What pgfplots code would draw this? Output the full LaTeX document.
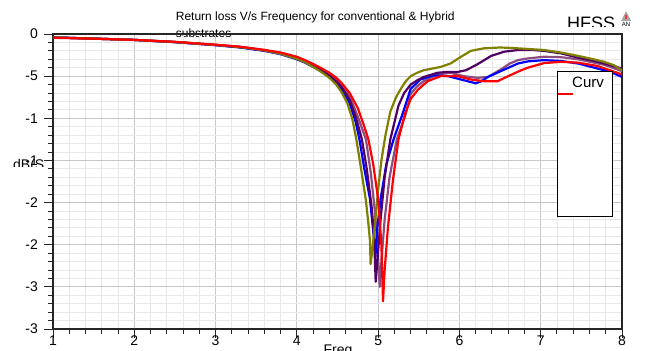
\documentclass[border=0pt]{standalone}
\usepackage{fontspec}
\setmainfont{Liberation Sans}
\usepackage{pgfplots}
\pgfplotsset{compat=1.18}
\definecolor{cOlive}{HTML}{808000}
\definecolor{cIndigo}{HTML}{500064}
\definecolor{cMauve}{HTML}{8C4C80}
\definecolor{cBlue}{HTML}{0000FF}
\definecolor{cRed}{HTML}{FF0000}
\begin{document}
\begin{tikzpicture}
\path[use as bounding box] (-53bp,-22bp) rectangle (592bp,329bp);
% title (drawn first so the axis frame crosses it)
\node[anchor=base west, inner sep=0pt, font=\fontsize{12bp}{14bp}\selectfont] at (122.7bp,308.3bp) {Return loss V/s Frequency for conventional \& Hybrid};
\node[anchor=base west, inner sep=0pt, font=\fontsize{12bp}{14bp}\selectfont] at (122.7bp,291.7bp) {substrates};
\begin{scope}
\clip (500bp,302bp) rectangle (592bp,329bp);
\node[anchor=north west, inner sep=0pt, font=\fontsize{18bp}{20bp}\selectfont] at (514bp,312bp) {HFSS};
\end{scope}
\fill[gray!70] (568bp,308bp) -- (578bp,308bp) -- (573bp,318bp) -- cycle;
\fill[red!80] (572bp,310bp) rectangle (574bp,314bp);
\node[anchor=north, inner sep=0pt, font=\fontsize{6bp}{7bp}\selectfont] at (573bp,307bp) {AN};
\begin{scope}
\clip (-53bp,162bp) rectangle (0bp,180bp);
\node[anchor=north west, inner sep=0pt, font=\fontsize{14bp}{16bp}\selectfont] at (-40bp,170bp) {dB(S};
\end{scope}
\begin{axis}[
  at={(0bp,0bp)}, anchor=south west,
  scale only axis, width=569bp, height=295bp,
  xmin=1, xmax=8, ymin=-35, ymax=0,
  xtick={1,2,3,4,5,6,7,8},
  xticklabels={1,2,3,4,5,6,7,8},
  ytick={0,-5,-10,-15,-20,-25,-30,-35},
  yticklabels={0,-5,-1,-1,-2,-2,-3,-3},
  minor x tick num=4, minor y tick num=4,
  grid=both,
  major grid style={color=black!22, line width=0.8bp},
  minor grid style={color=black!9, line width=0.8bp},
  axis line style={color=black!85, line width=1.5bp},
  tick style={color=black!85, line width=1bp},
  major tick length=9bp, minor tick length=5bp,
  tick align=outside,
  xtick pos=bottom, ytick pos=left,
  ticklabel style={font=\fontsize{14bp}{16bp}\selectfont},
  yticklabel style={anchor=east, inner sep=0pt, xshift=-6bp},
  xticklabel style={anchor=north, inner sep=0pt, yshift=2bp},
  clip=true,
  every axis plot/.append style={line width=2.2bp, line join=round},
]
\addplot[cMauve] coordinates {(1,-0.4)(1.5,-0.55)(2,-0.7)(2.5,-0.95)(3,-1.3)(3.3,-1.55)(3.6,-1.95)(3.8,-2.25)(4.0,-2.8)(4.1,-3.2)(4.2,-3.7)(4.3,-4.2)(4.4,-4.8)(4.48,-5.4)(4.55,-6.1)(4.65,-7.4)(4.75,-9.8)(4.85,-12.5)(4.91,-16.5)(4.96,-21)(4.99,-25)(5.02,-30)(5.04,-27)(5.08,-22)(5.14,-17)(5.23,-12.5)(5.34,-9.5)(5.40,-7.1)(5.48,-6.2)(5.56,-5.6)(5.73,-4.8)(5.89,-4.6)(6.05,-5.0)(6.22,-5.2)(6.35,-5.1)(6.51,-4.2)(6.62,-3.5)(6.72,-3.1)(6.84,-2.9)(7.04,-2.7)(7.25,-2.75)(7.46,-3.0)(7.78,-3.65)(8.0,-4.4)};
\addplot[cBlue] coordinates {(1,-0.4)(1.5,-0.55)(2,-0.7)(2.5,-0.97)(3,-1.33)(3.3,-1.6)(3.6,-2.0)(3.8,-2.4)(4.0,-3.0)(4.1,-3.4)(4.2,-3.9)(4.3,-4.4)(4.4,-5.0)(4.48,-5.7)(4.55,-6.5)(4.65,-8.2)(4.72,-10.3)(4.77,-12.5)(4.83,-16)(4.90,-19.6)(4.93,-22.5)(4.955,-25)(4.965,-26.6)(4.99,-23)(5.03,-19.6)(5.10,-15.5)(5.19,-12.5)(5.30,-9.5)(5.40,-6.5)(5.52,-5.4)(5.68,-4.9)(5.86,-5.0)(6.02,-5.4)(6.2,-5.85)(6.27,-5.6)(6.35,-5.1)(6.51,-4.4)(6.72,-3.5)(6.84,-3.25)(7.04,-3.1)(7.25,-3.2)(7.46,-3.5)(7.66,-4.0)(7.86,-4.5)(8.0,-5.1)};
\addplot[cIndigo] coordinates {(1,-0.4)(1.5,-0.55)(2,-0.7)(2.5,-0.95)(3,-1.3)(3.3,-1.55)(3.6,-1.95)(3.8,-2.3)(4.0,-2.85)(4.1,-3.25)(4.2,-3.8)(4.3,-4.35)(4.4,-4.95)(4.48,-5.6)(4.55,-6.3)(4.65,-7.8)(4.73,-10)(4.80,-12.5)(4.86,-16)(4.92,-20.5)(4.95,-24)(4.97,-29.4)(4.99,-27)(5.03,-22)(5.08,-17)(5.15,-12.5)(5.25,-8.5)(5.32,-7.0)(5.40,-6.0)(5.48,-5.5)(5.56,-5.1)(5.73,-4.6)(5.85,-4.5)(5.98,-4.5)(6.08,-4.3)(6.22,-3.6)(6.39,-2.6)(6.55,-2.1)(6.72,-1.9)(6.9,-1.9)(7.04,-2.0)(7.25,-2.3)(7.46,-2.8)(7.66,-3.2)(7.86,-3.7)(8.0,-4.1)};
\addplot[cOlive] coordinates {(1,-0.4)(1.5,-0.55)(2,-0.7)(2.5,-0.95)(3,-1.3)(3.3,-1.55)(3.6,-1.95)(3.8,-2.35)(4.0,-2.95)(4.1,-3.35)(4.2,-3.9)(4.3,-4.5)(4.4,-5.2)(4.48,-5.95)(4.55,-6.9)(4.62,-8.2)(4.68,-10)(4.73,-12.4)(4.79,-16)(4.85,-19.8)(4.88,-22.5)(4.90,-24.6)(4.907,-27.3)(4.93,-25.5)(4.97,-21.5)(5.0,-18.5)(5.04,-15)(5.09,-12)(5.15,-9.2)(5.22,-7.5)(5.28,-6.5)(5.34,-5.6)(5.40,-5.0)(5.48,-4.6)(5.56,-4.3)(5.67,-4.1)(5.77,-3.9)(5.89,-3.5)(6.02,-2.7)(6.14,-2.0)(6.3,-1.7)(6.5,-1.6)(6.63,-1.65)(6.8,-1.75)(7.04,-1.9)(7.25,-2.2)(7.46,-2.6)(7.65,-3.0)(7.78,-3.3)(7.9,-3.7)(8.0,-4.3)};
\addplot[cRed] coordinates {(1,-0.45)(1.5,-0.55)(2,-0.7)(2.5,-0.93)(3,-1.27)(3.3,-1.5)(3.6,-1.88)(3.8,-2.2)(4.0,-2.7)(4.1,-3.1)(4.2,-3.55)(4.3,-4.05)(4.4,-4.6)(4.48,-5.15)(4.55,-5.8)(4.65,-7.0)(4.75,-8.8)(4.83,-11)(4.88,-12.5)(4.94,-15.5)(5.0,-19.6)(5.04,-25)(5.06,-31.7)(5.08,-28)(5.12,-23)(5.18,-17.5)(5.25,-12.5)(5.33,-9.5)(5.40,-7.7)(5.49,-6.6)(5.61,-5.6)(5.77,-5.0)(5.98,-5.0)(6.14,-5.4)(6.3,-5.6)(6.47,-5.6)(6.6,-5.0)(6.76,-4.3)(6.84,-4.0)(7.04,-3.45)(7.25,-3.3)(7.46,-3.4)(7.7,-3.8)(8.0,-4.8)};
\end{axis}
% curve info box
\draw[black, line width=1bp, fill=white] (504.3bp,112.3bp) rectangle (559.7bp,257.3bp);
\begin{scope}
\clip (505bp,242bp) rectangle (559bp,257bp);
\node[anchor=north west, inner sep=0pt, font=\fontsize{15bp}{17bp}\selectfont] at (519bp,252bp) {Curv};
\end{scope}
\draw[cRed, line width=2bp] (505bp,234.7bp) -- (520bp,234.7bp);
\node[anchor=north, inner sep=0pt, font=\fontsize{14bp}{16bp}\selectfont] at (285bp,-16bp) {Freq};
\end{tikzpicture}
\end{document}
